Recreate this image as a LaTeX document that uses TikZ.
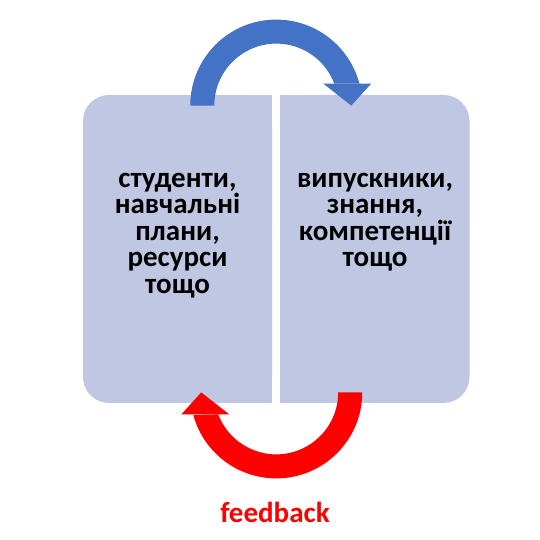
\documentclass[tikz,border=0pt]{standalone}
\usepackage{fontspec}
\setmainfont{Carlito}
\usepackage{tikz}
\usetikzlibrary{positioning, calc}
\definecolor{boxfill}{RGB}{191,199,227}
\definecolor{loopblue}{RGB}{68,114,196}
\definecolor{loopred}{RGB}{255,0,0}

\begin{document}
\begin{tikzpicture}[x=0.5pt, y=0.5pt,
  font=\fontsize{14.5pt}{13.25pt}\selectfont\bfseries,
  block/.style={fill=boxfill, rounded corners=13pt, minimum width=94.5pt, minimum height=154pt, inner sep=0pt},
  blocktext/.style={align=center, inner sep=0pt}]
  \useasboundingbox (0,0) rectangle (540,540);
  % the two halves
  \node[block] (inputs) at (177.5,291) {};
  \node[block] (outputs) at (375,291) {};
  % inner corners stay square
  \fill[boxfill] (inputs.north) rectangle (inputs.south east);
  \fill[boxfill] (outputs.north west) rectangle (outputs.south);
  \node[blocktext, below=39pt of inputs.north] (inputs text) {студенти,\\навчальні\\плани,\\ресурси\\тощо};
  \node[blocktext, below=39pt of outputs.north] (outputs text) {випускники,\\знання,\\компетенції\\тощо};
  % loop arrows
  \coordinate (top loop) at ($(inputs.north east)!0.5!(outputs.north west)+(0,-11)$);
  \coordinate (bottom loop) at ($(inputs.south east)!0.5!(outputs.south west)+(0,11)$);
  \begin{scope}[shift={(top loop)}]
    \fill[loopblue] (-86,0) arc[start angle=180, end angle=14.8, radius=86]
      -- (58,22) arc[start angle=20.8, end angle=180, radius=62] -- cycle;
    \fill[loopblue] (47,22) -- (95,22) -- (75,0) -- cycle;
  \end{scope}
  \begin{scope}[shift={(bottom loop)}]
    \fill[loopred] (86,0) arc[start angle=0, end angle=-164.8, radius=86]
      -- (-58,-22) arc[start angle=-159.2, end angle=0, radius=62] -- cycle;
    \fill[loopred] (-95,-22) -- (-47,-22) -- (-75,0) -- cycle;
  \end{scope}
  \node[text=loopred, anchor=base] (feedback) at (275,18) {feedback};
\end{tikzpicture}
\end{document}
